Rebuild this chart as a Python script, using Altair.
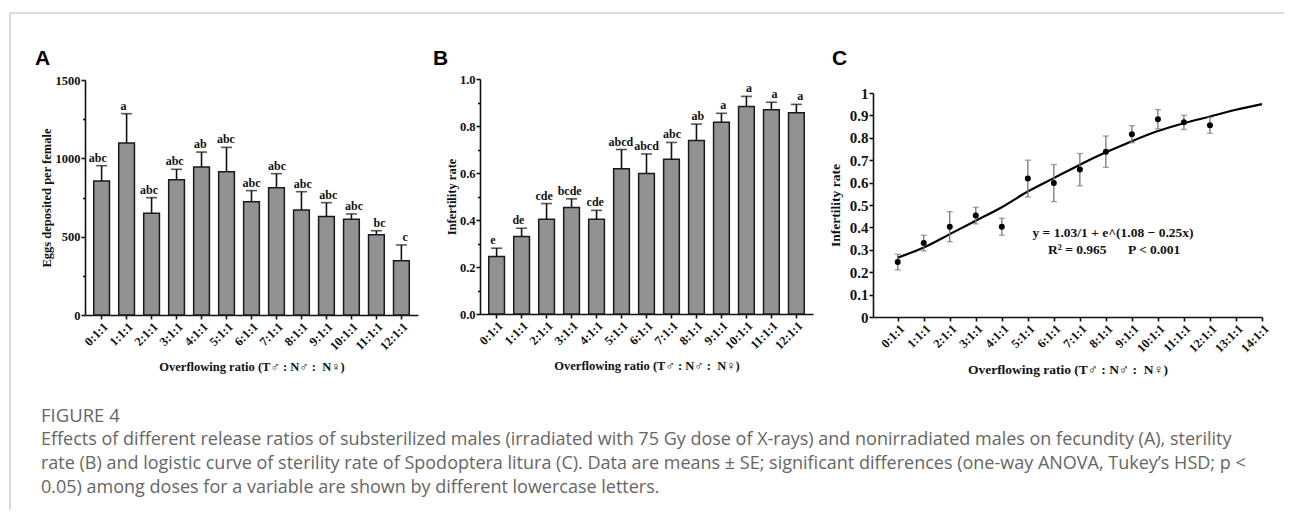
import altair as alt
import pandas as pd

# ---------------- data ----------------
RATIOS = ["0:1:1", "1:1:1", "2:1:1", "3:1:1", "4:1:1", "5:1:1", "6:1:1",
          "7:1:1", "8:1:1", "9:1:1", "10:1:1", "11:1:1", "12:1:1"]
RATIO_NUM = [0, 1, 2, 3, 4, 5, 6, 7, 8, 9, 10, 11, 12]

EGGS_MEAN = [855, 1098, 649, 864, 945, 915, 723, 813, 670, 628, 611, 513, 347]
EGGS_SE = [98, 187, 100, 66, 95, 155, 71, 89, 117, 89, 34, 25, 100]
EGGS_LETTERS = ["abc", "a", "abc", "abc", "ab", "abc", "abc", "abc", "abc",
                "abc", "abc", "bc", "c"]

INF_MEAN = [0.245, 0.330, 0.403, 0.453, 0.403, 0.618, 0.598, 0.658, 0.738,
            0.816, 0.883, 0.869, 0.856]
INF_SE = [0.035, 0.035, 0.067, 0.037, 0.038, 0.082, 0.083, 0.072, 0.070,
          0.038, 0.043, 0.032, 0.036]
INF_LETTERS = ["e", "de", "cde", "bcde", "cde", "abcd", "abcd", "abc", "ab",
               "a", "a", "a", "a"]

CURVE_X = [0, 1, 2, 3, 4, 5, 6, 7, 8, 9, 10, 11, 12, 13, 14]
CURVE_Y = [0.265, 0.31, 0.37, 0.43, 0.49, 0.56, 0.62, 0.68, 0.735, 0.785,
           0.83, 0.865, 0.895, 0.925, 0.95]

C_TICK_VALUES = [0, 1, 2, 3, 4, 5, 6, 7, 8, 9, 10, 11, 12, 13, 14]
C_TICK_LABELS = ["0:1:1", "1:1:1", "2:1:1", "3:1:1", "4:1:1", "5:1:1", "6:1:1",
                 "7:1:1", "8:1:1", "9:1:1", "10:1:1", "11:1:1", "12:1:1",
                 "13:1:1", "14:1:1"]

Y_TICKS_A = [0, 500, 1000, 1500]
Y_MINOR_A = [250, 750, 1250]
Y_TICKS_B = [0.0, 0.2, 0.4, 0.6, 0.8, 1.0]
Y_MINOR_B = [0.1, 0.3, 0.5, 0.7, 0.9]
Y_TICKS_C = [0, 0.1, 0.2, 0.3, 0.4, 0.5, 0.6, 0.7, 0.8, 0.9, 1]

X_TITLE = "Overflowing ratio (T\u2642 : N\u2642 :\u00a0 N\u2640)"
EQ_LINE = "y = 1.03/1 + e^(1.08 \u2212 0.25x)"
R2_TEXT = "R\u00b2 = 0.965"
P_TEXT = "P < 0.001"

CAPTION_HEAD = "FIGURE 4"
CAPTION_LINES = [
    "Effects of different release ratios of substerilized males (irradiated with 75 Gy dose of X-rays) and nonirradiated males on fecundity (A), sterility",
    "rate (B) and logistic curve of sterility rate of Spodoptera litura (C). Data are means \u00b1 SE; significant differences (one-way ANOVA, Tukey\u2019s HSD; p <",
    "0.05) among doses for a variable are shown by different lowercase letters.",
]

# ---------------- layout (chart pixel coordinates) ----------------
W, H = 1276, 502
A_X, A_Y = [77, 410], [307, 72]
B_X, B_Y = [472, 805], [306, 71]
C_XR, C_Y = [865, 1254], [309, 85]

SERIF = "Liberation Serif"
SANS = "Liberation Sans"
CAP_FONT = "Open Sans"
INK = "#111111"

AX = dict(domainColor=INK, domainWidth=1.6, tickColor=INK, tickWidth=1.6,
          labelColor=INK, titleColor=INK, labelFont=SERIF, titleFont=SERIF,
          labelFontWeight="bold", titleFontWeight="bold", grid=False,
          labelOverlap=False, labelFlush=False)


def bar_panel(ratios, means, ses, letters, xr, yr, ydomain, yticks, yminor,
              yfmt, ytitle, ytitle_x):
    df = pd.DataFrame({"ratio": ratios, "mean": means, "se": ses,
                       "letter": letters})
    df["top"] = df["mean"] + df["se"]

    def xs():
        return alt.Scale(domain=ratios, range=xr, paddingInner=0.37,
                         paddingOuter=0.35)

    def ys():
        return alt.Scale(domain=ydomain, range=yr, nice=False, zero=True)

    x_axis = alt.Axis(orient="bottom", offset=yr[0] - H, labelAngle=-45,
                      tickSize=4, labelPadding=1, labelFontSize=12.5,
                      title=X_TITLE, titleFontSize=12.5, titleY=55,
                      titleBaseline="alphabetic", **AX)
    y_axis = alt.Axis(orient="left", offset=-xr[0], values=yticks, format=yfmt,
                      tickSize=4, labelPadding=1, labelFontSize=12.5,
                      title=ytitle, titleFontSize=12.5, titleX=ytitle_x,
                      titleBaseline="middle", **AX)
    bars = alt.Chart(df).mark_bar(color="#929292", stroke="#1a1a1a",
                                  strokeWidth=1.5).encode(
        x=alt.X("ratio:N", scale=xs(), axis=x_axis),
        y=alt.Y("mean:Q", scale=ys(), axis=y_axis))
    err = alt.Chart(df).mark_rule(color=INK, strokeWidth=1.6).encode(
        x=alt.X("ratio:N", scale=xs(), axis=None),
        y=alt.Y("mean:Q", scale=ys(), axis=None), y2="top:Q")
    cap = alt.Chart(df).mark_tick(color=INK, size=11, thickness=1.6).encode(
        x=alt.X("ratio:N", scale=xs(), axis=None),
        y=alt.Y("top:Q", scale=ys(), axis=None))
    txt = alt.Chart(df).mark_text(font=SERIF, fontWeight="bold", fontSize=12,
                                  dy=-4, baseline="alphabetic", color=INK).encode(
        x=alt.X("ratio:N", scale=xs(), axis=None),
        y=alt.Y("top:Q", scale=ys(), axis=None), text="letter:N")
    minor = alt.Chart(df).mark_point(opacity=0).encode(
        y=alt.Y("mean:Q", scale=ys(),
                axis=alt.Axis(orient="left", offset=-xr[0], values=yminor,
                              labels=False, domain=False, tickSize=2.5,
                              tickWidth=1.6, tickColor=INK, grid=False,
                              title=None)))
    return [bars, err, cap, txt, minor]


layers = []

# frame
dummy = pd.DataFrame({"k": [0]})
layers.append(alt.Chart(dummy).mark_rule(color="#dadada", strokeWidth=2).encode(
    x=alt.value(2), x2=alt.value(W), y=alt.value(5)))
layers.append(alt.Chart(dummy).mark_rule(color="#dadada", strokeWidth=2).encode(
    x=alt.value(2), y=alt.value(5), y2=alt.value(H)))

# panel A and B
layers += bar_panel(RATIOS, EGGS_MEAN, EGGS_SE, EGGS_LETTERS, A_X, A_Y,
                    [0, 1500], Y_TICKS_A, Y_MINOR_A, "d",
                    "Eggs deposited per female", -39)
layers += bar_panel(RATIOS, INF_MEAN, INF_SE, INF_LETTERS, B_X, B_Y,
                    [0, 1.0], Y_TICKS_B, Y_MINOR_B, ".1f",
                    "Infertility rate", -29)

# panel C
dfC = pd.DataFrame({"x": RATIO_NUM, "mean": INF_MEAN, "se": INF_SE})
dfC["lo"] = dfC["mean"] - dfC["se"]
dfC["hi"] = dfC["mean"] + dfC["se"]
dfCurve = pd.DataFrame({"x": CURVE_X, "y": CURVE_Y})


def xsC():
    return alt.Scale(domain=[-0.95, 14], range=C_XR, nice=False, zero=False)


def ysC():
    return alt.Scale(domain=[0, 1], range=C_Y, nice=False, zero=True)


label_expr = "[" + ",".join("'%s'" % s for s in C_TICK_LABELS) + "][datum.value]"
x_axis_C = alt.Axis(orient="bottom", offset=C_Y[0] - H, values=C_TICK_VALUES,
                    labelExpr=label_expr, labelAngle=-45, tickSize=4,
                    labelPadding=1, labelFontSize=12.5, title=X_TITLE,
                    titleFontSize=13.5, titleY=56, titleBaseline="alphabetic",
                    **AX)
y_axis_C = alt.Axis(orient="left", offset=-C_XR[0], values=Y_TICKS_C,
                    format=".1~f", tickSize=4, labelPadding=1, labelFontSize=15,
                    title="Infertility rate", titleFontSize=13.5, titleX=-38,
                    titleBaseline="middle", **AX)
curve = alt.Chart(dfCurve).mark_line(color="black", strokeWidth=2.2,
                                     interpolate="monotone").encode(
    x=alt.X("x:Q", scale=xsC(), axis=x_axis_C),
    y=alt.Y("y:Q", scale=ysC(), axis=y_axis_C))
errC = alt.Chart(dfC).mark_rule(color="#777777", strokeWidth=1.3).encode(
    x=alt.X("x:Q", scale=xsC(), axis=None),
    y=alt.Y("lo:Q", scale=ysC(), axis=None), y2="hi:Q")
capLo = alt.Chart(dfC).mark_tick(color="#777777", size=6, thickness=1.3,
                                 orient="horizontal").encode(
    x=alt.X("x:Q", scale=xsC(), axis=None),
    y=alt.Y("lo:Q", scale=ysC(), axis=None))
capHi = alt.Chart(dfC).mark_tick(color="#777777", size=6, thickness=1.3,
                                 orient="horizontal").encode(
    x=alt.X("x:Q", scale=xsC(), axis=None),
    y=alt.Y("hi:Q", scale=ysC(), axis=None))
pts = alt.Chart(dfC).mark_circle(color="black", size=36, opacity=1).encode(
    x=alt.X("x:Q", scale=xsC(), axis=None),
    y=alt.Y("mean:Q", scale=ysC(), axis=None))
layers += [curve, errC, capLo, capHi, pts]


def text_layer(t, x, y, **kw):
    return alt.Chart(pd.DataFrame({"t": [t]})).mark_text(**kw).encode(
        x=alt.value(x), y=alt.value(y), text="t:N")


# equation annotation
layers.append(text_layer(EQ_LINE, 1105, 229, font=SERIF, fontWeight="bold",
                         fontSize=13.5, align="center", baseline="alphabetic",
                         color=INK))
layers.append(text_layer(R2_TEXT, 1040, 246, font=SERIF, fontWeight="bold",
                         fontSize=13.5, align="left", baseline="alphabetic",
                         color=INK))
layers.append(text_layer(P_TEXT, 1120, 246, font=SERIF, fontWeight="bold",
                         fontSize=13.5, align="left", baseline="alphabetic",
                         color=INK))

# panel letters
for letter, lx in [("A", 27), ("B", 425), ("C", 824)]:
    layers.append(text_layer(letter, lx, 57, font=SANS, fontWeight="bold",
                             fontSize=21, align="left", baseline="alphabetic",
                             color="black"))

# caption
layers.append(text_layer(CAPTION_HEAD, 33, 414, font=CAP_FONT, fontSize=18.5,
                         align="left", baseline="alphabetic", color="#666666"))
for i, line in enumerate(CAPTION_LINES):
    layers.append(text_layer(line, 33, 437 + 24 * i, font=CAP_FONT,
                             fontSize=18, align="left", baseline="alphabetic",
                             color="#666666"))

chart = alt.layer(*layers).resolve_scale(
    x="independent", y="independent").resolve_axis(
    x="independent", y="independent").properties(
    width=W, height=H, padding=0,
    autosize=alt.AutoSizeParams(type="none"), background="white"
).configure_view(strokeWidth=0)

chart.save("out.html", embed_options={"renderer": "svg", "actions": False})
